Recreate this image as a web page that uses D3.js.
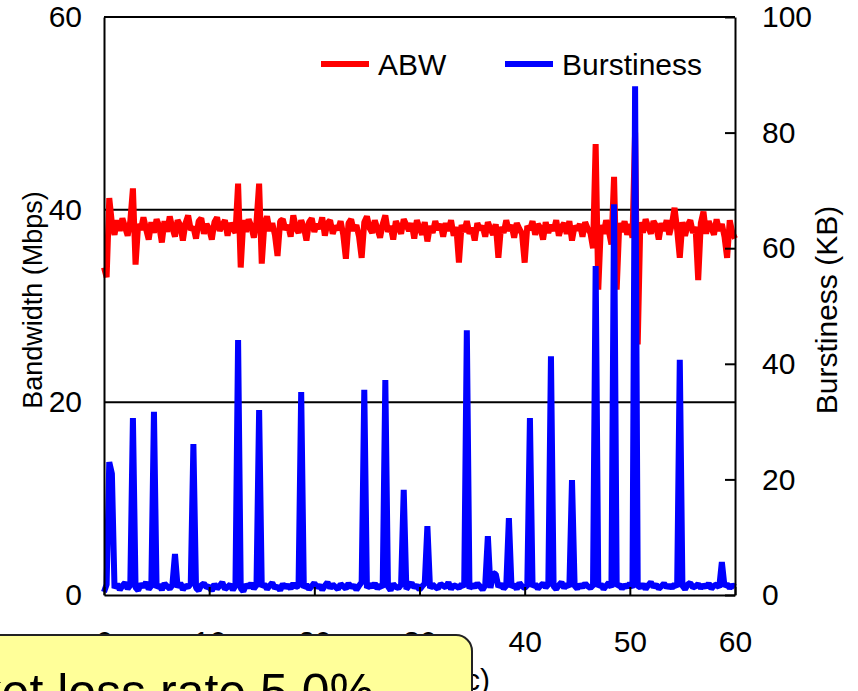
<!DOCTYPE html>
<html>
<head>
<meta charset="utf-8">
<script src="https://cdn.jsdelivr.net/npm/d3@7"></script>
<style>
  body { margin: 0; background: #fff; }
  svg { display: block; font-family: "Liberation Sans", Arial, sans-serif; }
</style>
</head>
<body>
<svg></svg>
<script>
// time step of the samples, seconds
const step = 0.25;

// ABW in Mbps, one value every 0.25 s
const abw = [
  34.0, 33.0, 41.2, 38.6, 37.4, 38.9, 37.8, 39.1, 38.2, 37.3,
  38.8, 42.2, 34.3, 38.5, 37.9, 39.2, 38.0, 36.9, 38.7, 37.6,
  39.0, 38.3, 36.6, 38.8, 37.7, 39.3, 38.1, 37.2, 38.9, 38.4,
  36.8, 38.6, 39.4, 37.9, 38.2, 37.0, 38.8, 39.1, 37.5, 38.5,
  38.0, 36.9, 38.7, 39.2, 37.8, 38.4, 38.9, 37.3, 38.6, 38.1,
  37.6, 42.7, 34.0, 38.9, 37.7, 39.0, 38.3, 37.1, 38.7, 42.7,
  34.4, 38.5, 39.3, 37.8, 38.6, 37.4, 35.2, 38.8, 39.0, 37.9,
  38.4, 37.2, 39.4, 38.1, 37.6, 38.9, 38.2, 36.8, 38.7, 39.1,
  37.7, 38.5, 38.0, 39.2, 37.3, 38.6, 38.9, 37.5, 38.3, 37.9,
  38.8, 37.4, 34.9, 38.6, 39.0, 37.8, 38.4, 37.2, 35.0, 38.7,
  39.3, 38.1, 37.6, 38.9, 38.0, 37.1, 38.5, 39.4, 37.7, 38.3,
  36.9, 38.8, 38.2, 37.5, 39.0, 38.4, 37.8, 38.6, 37.0, 38.9,
  38.1, 37.4, 38.7, 36.7, 38.3, 37.6, 38.8, 37.9, 38.5, 37.2,
  38.6, 37.8, 38.9, 37.3, 38.2, 34.5, 38.4, 37.7, 38.8, 37.5,
  38.1, 36.8, 38.6, 37.9, 38.3, 37.2, 38.7, 38.0, 37.4, 38.5,
  35.0, 38.2, 37.6, 38.9, 37.8, 38.4, 37.1, 38.6, 38.0, 37.5,
  34.5, 38.3, 37.9, 38.8, 37.4, 38.5, 38.1, 36.9, 38.7, 37.6,
  38.4, 37.8, 38.9, 37.3, 38.2, 38.6, 37.5, 38.8, 36.8, 38.3,
  37.9, 38.5, 37.2, 38.7, 38.0, 37.6, 36.0, 46.8, 31.7, 38.4,
  37.5, 38.9, 37.8, 36.4, 43.4, 31.7, 38.6, 37.7, 38.8, 37.4,
  38.5, 37.1, 48.0, 26.0, 38.7, 37.6, 39.0, 38.2, 37.5, 38.8,
  38.3, 36.9, 38.6, 37.8, 38.9, 37.4, 38.5, 40.2, 37.9, 35.0,
  38.7, 37.3, 38.4, 38.9, 37.6, 38.2, 32.7, 38.6, 39.8, 37.5,
  38.8, 38.1, 37.4, 39.0, 37.8, 38.5, 37.2, 35.0, 38.9, 37.6,
  37.0
];

// Burstiness in KB, same sampling
const burst = [
  0.5, 1.8, 23.0, 21.0, 1.2, 1.9, 0.9, 1.6, 2.1, 1.1,
  1.7, 30.6, 1.3, 0.8, 1.9, 1.4, 2.2, 1.0, 1.6, 31.7,
  1.2, 1.8, 0.9, 2.0, 1.5, 1.1, 1.7, 7.1, 1.3, 2.1,
  0.9, 1.6, 1.4, 1.9, 26.1, 1.2, 0.8, 1.7, 2.0, 1.3,
  1.5, 0.7, 1.9, 1.1, 1.6, 2.2, 1.0, 1.4, 1.8, 0.9,
  1.6, 44.1, 1.2, 0.6, 1.8, 1.3, 2.0, 1.1, 1.7, 32.0,
  1.4, 1.9, 1.0, 1.6, 2.1, 1.2, 1.5, 0.8, 1.9, 1.3,
  1.7, 1.1, 2.0, 1.4, 1.6, 35.1, 1.2, 1.8, 1.0, 1.5,
  2.1, 1.3, 1.7, 0.9, 1.6, 2.2, 1.2, 1.8, 1.4, 1.0,
  1.9, 1.5, 1.1, 2.0, 1.3, 1.7, 0.9, 1.6, 2.2, 35.5,
  1.2, 1.8, 1.4, 2.0, 1.1, 1.7, 1.3, 37.2, 1.5, 0.8,
  1.9, 1.4, 1.2, 1.8, 18.2, 1.0, 1.6, 2.1, 1.3, 1.7,
  0.9, 1.5, 2.0, 11.9, 1.2, 1.8, 1.4, 1.1, 1.9, 1.6,
  1.3, 2.2, 1.0, 1.7, 1.5, 1.2, 1.9, 1.4, 45.8, 1.1,
  1.8, 1.3, 2.0, 1.5, 0.9, 1.7, 10.2, 1.2, 3.8, 3.6,
  1.4, 1.9, 1.1, 1.6, 13.3, 1.3, 1.8, 1.0, 2.1, 1.5,
  1.2, 1.7, 30.6, 1.4, 1.9, 1.1, 1.6, 2.0, 1.3, 1.8,
  41.3, 1.5, 1.0, 1.7, 2.2, 1.2, 1.9, 1.4, 19.9, 1.6,
  1.1, 1.8, 1.3, 2.0, 1.5, 1.2, 1.7, 56.9, 1.4, 1.9,
  1.0, 1.6, 2.1, 1.3, 67.6, 1.5, 1.8, 1.1, 1.7, 1.4,
  2.0, 1.2, 88.0, 1.6, 1.3, 1.9, 1.0, 1.7, 2.2, 1.4,
  1.8, 1.1, 1.5, 2.0, 1.3, 1.7, 1.2, 1.9, 1.4, 40.7,
  1.6, 1.0, 1.8, 2.1, 1.3, 1.5, 1.9, 1.2, 1.7, 1.4,
  2.0, 1.1, 1.6, 1.8, 1.3, 5.7, 1.5, 1.9, 1.2, 1.7,
  1.4
];

const xTicks = [0, 10, 20, 30, 40, 50, 60];
const leftTicks = [0, 20, 40, 60];
const rightTicks = [0, 20, 40, 60, 80, 100];
const gridValues = [20, 40];
const legendItems = ["ABW", "Burstiness"];
const note = "Packet loss rate 5.0%";

const width = 858;
const height = 691;
const plotLeft = 104, plotRight = 735, plotTop = 17, plotBottom = 595;

let svg = d3.select("svg").attr("width", width).attr("height", height);

//SCALES
const xScale = d3.scaleLinear().domain([0, 60]).range([plotLeft, plotRight]);
const yLeft = d3.scaleLinear().domain([0, 60]).range([plotBottom, plotTop]);
const yRight = d3.scaleLinear().domain([0, 100]).range([plotBottom, plotTop]);

//GRID
svg.append("g")
  .selectAll("line")
  .data(gridValues)
  .enter()
  .append("line")
  .attr("x1", plotLeft)
  .attr("x2", plotRight)
  .attr("y1", (d) => yLeft(d))
  .attr("y2", (d) => yLeft(d))
  .attr("stroke", "#000")
  .attr("stroke-width", 2);

//LINES
const abwLine = d3.line()
  .x((d, i) => xScale(i * step))
  .y((d) => yLeft(d));

const burstLine = d3.line()
  .x((d, i) => xScale(i * step))
  .y((d) => yRight(d));

svg.append("path")
  .datum(abw)
  .attr("d", abwLine)
  .attr("fill", "none")
  .attr("stroke", "#ff0000")
  .attr("stroke-width", 6)
  .attr("stroke-linejoin", "bevel");

svg.append("path")
  .datum(burst)
  .attr("d", burstLine)
  .attr("fill", "none")
  .attr("stroke", "#0000ff")
  .attr("stroke-width", 6)
  .attr("stroke-linejoin", "bevel");

//AXES
const fontSize = "30px";

let xAxis = d3.axisBottom(xScale).tickValues(xTicks).tickSizeInner(-8).tickSizeOuter(0).tickPadding(36);
svg.append("g")
  .attr("transform", "translate(0," + plotBottom + ")")
  .call(xAxis);

let yAxisL = d3.axisLeft(yLeft).tickValues(leftTicks).tickSizeInner(0).tickSizeOuter(0).tickPadding(22);
svg.append("g")
  .attr("transform", "translate(" + plotLeft + ",0)")
  .call(yAxisL);

let yAxisR = d3.axisRight(yRight).tickValues(rightTicks).tickSizeInner(-10).tickSizeOuter(0).tickPadding(27);
svg.append("g")
  .attr("transform", "translate(" + plotRight + ",0)")
  .call(yAxisR);

svg.selectAll(".tick text")
  .attr("font-size", fontSize)
  .attr("font-family", "Liberation Sans, Arial, sans-serif")
  .attr("fill", "#000");
svg.selectAll(".tick line").attr("stroke", "#000").attr("stroke-width", 2);
svg.selectAll(".domain").attr("stroke", "#000").attr("stroke-width", 2);

// top border
svg.append("line")
  .attr("x1", plotLeft).attr("x2", plotRight)
  .attr("y1", plotTop).attr("y2", plotTop)
  .attr("stroke", "#000").attr("stroke-width", 2);

//AXIS TITLES
svg.append("text")
  .text("Bandwidth (Mbps)")
  .attr("transform", "translate(42,300) rotate(-90)")
  .attr("text-anchor", "middle")
  .attr("font-size", "27px");

svg.append("text")
  .text("Burstiness (KB)")
  .attr("transform", "translate(837,310) rotate(-90)")
  .attr("text-anchor", "middle")
  .attr("font-size", "30px");

svg.append("text")
  .text("Time (sec)")
  .attr("x", 490)
  .attr("y", 690)
  .attr("text-anchor", "end")
  .attr("font-size", "30px");

//LEGEND
const legendColors = ["#ff0000", "#0000ff"];
const legendX = [321, 505];
let legend = svg.append("g")
  .selectAll("g")
  .data(legendItems)
  .enter()
  .append("g")
  .attr("transform", (d, i) => "translate(" + legendX[i] + ",64)");

legend.append("line")
  .attr("x1", 0).attr("x2", 48)
  .attr("stroke", (d, i) => legendColors[i])
  .attr("stroke-width", 6);

legend.append("text")
  .text((d) => d)
  .attr("x", 57)
  .attr("y", 11)
  .attr("font-size", "30px");

//NOTE BOX
svg.append("rect")
  .attr("x", -200)
  .attr("y", 635)
  .attr("width", 672)
  .attr("height", 140)
  .attr("rx", 16)
  .attr("fill", "#ffff99")
  .attr("stroke", "#222")
  .attr("stroke-width", 2);

svg.append("text")
  .text(note)
  .attr("x", 374)
  .attr("y", 709)
  .attr("text-anchor", "end")
  .attr("font-size", "50px");
</script>
</body>
</html>
